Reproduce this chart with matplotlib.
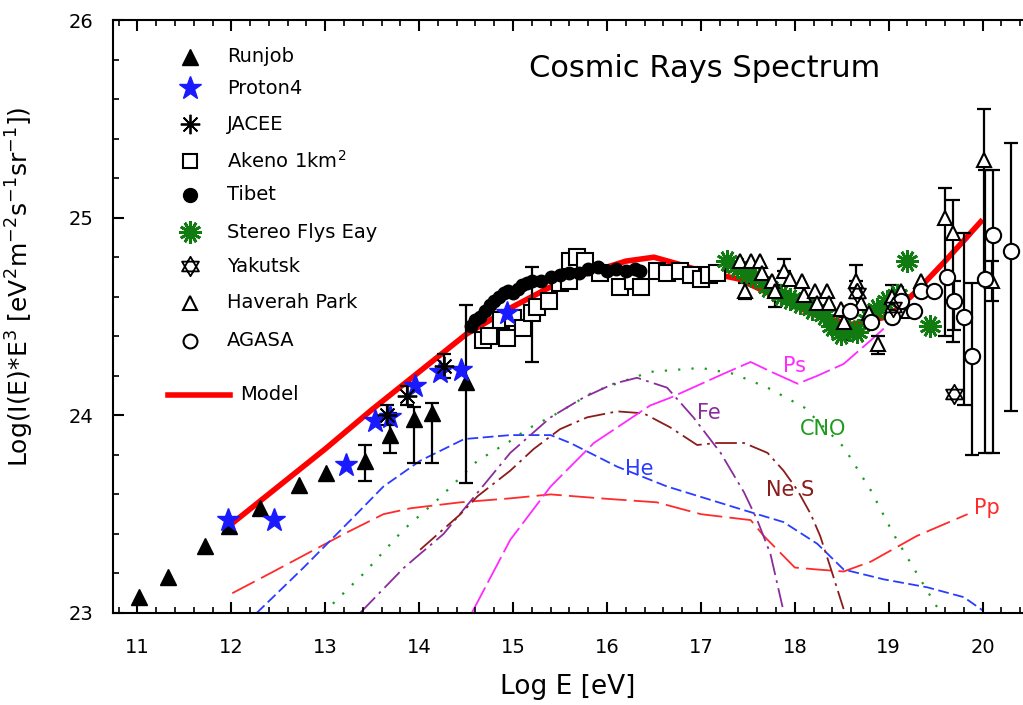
import numpy as np
import matplotlib.pyplot as plt
from matplotlib.path import Path

plt.rcParams['font.family'] = ['DejaVu Sans']
plt.rcParams['mathtext.fontset'] = 'dejavusans'

# --- data (Log E [eV], Log(I*E^3)) ---
runjob_x = [11.02, 11.33, 11.72, 11.98, 12.31, 12.72, 13.01, 13.42, 13.69, 13.94, 14.14, 14.50]
runjob_y = [23.08, 23.18, 23.34, 23.44, 23.53, 23.65, 23.71, 23.77, 23.90, 23.98, 24.01, 24.17]
runjob_lo = [0, 0, 0, 0, 0, 0, 0, 0.10, 0.09, 0.22, 0.25, 0.51]
runjob_hi = [0, 0, 0, 0, 0, 0, 0, 0.08, 0.11, 0.06, 0.05, 0.39]

proton4_x = [11.96, 12.45, 13.22, 13.53, 13.69, 13.96, 14.22, 14.45, 14.94]
proton4_y = [23.47, 23.47, 23.75, 23.97, 23.99, 24.15, 24.22, 24.23, 24.52]

jacee_x = [13.66, 13.87, 14.26]
jacee_y = [24.00, 24.10, 24.25]
jacee_err = [0.05, 0.05, 0.06]

akeno_x = [14.68, 14.74, 14.87, 14.94, 15.00, 15.11, 15.20, 15.26, 15.38, 15.50, 15.60,
           15.61, 15.68, 15.77, 15.93, 16.14, 16.28, 16.36, 16.53, 16.64, 16.78, 16.89,
           17.00, 17.09, 17.17]
akeno_y = [24.38, 24.40, 24.48, 24.39, 24.49, 24.44, 24.52, 24.55, 24.58, 24.67, 24.68,
           24.78, 24.80, 24.78, 24.72, 24.65, 24.68, 24.65, 24.73, 24.72, 24.73, 24.71,
           24.69, 24.71, 24.72]
akeno_lo = [0, 0, 0, 0, 0, 0, 0.25, 0, 0, 0, 0, 0, 0, 0, 0, 0, 0, 0, 0, 0, 0, 0, 0, 0, 0]
akeno_hi = [0, 0, 0, 0, 0, 0, 0.23, 0, 0, 0, 0, 0, 0, 0, 0, 0, 0, 0, 0, 0, 0, 0, 0, 0, 0]

tibet_x = [14.55, 14.60, 14.65, 14.70, 14.75, 14.80, 14.85, 14.90, 14.95, 15.00, 15.05,
           15.10, 15.15, 15.20, 15.30, 15.40, 15.50, 15.60, 15.70, 15.80, 15.90, 16.00,
           16.10, 16.20, 16.30, 16.35]
tibet_y = [24.45, 24.48, 24.50, 24.53, 24.56, 24.58, 24.60, 24.62, 24.63, 24.62, 24.64,
           24.66, 24.67, 24.68, 24.68, 24.70, 24.71, 24.72, 24.72, 24.74, 24.75, 24.73,
           24.74, 24.73, 24.74, 24.73]

fly_x = [17.28, 17.38, 17.48, 17.58, 17.71, 17.85, 17.95, 18.06, 18.18, 18.31, 18.40,
         18.49, 18.58, 18.66, 18.78, 18.88, 18.98, 19.09, 19.20, 19.44]
fly_y = [24.78, 24.75, 24.72, 24.70, 24.65, 24.61, 24.59, 24.57, 24.54, 24.51, 24.45,
         24.41, 24.43, 24.42, 24.48, 24.54, 24.58, 24.61, 24.78, 24.45]

yakutsk_x = [18.66, 19.05, 19.69]
yakutsk_y = [24.62, 24.55, 24.11]

haverah_x = [17.42, 17.47, 17.53, 17.63, 17.65, 17.76, 17.79, 17.89, 17.95, 18.08, 18.10,
             18.22, 18.24, 18.34, 18.36, 18.49, 18.52, 18.65, 18.66, 18.70, 18.79, 18.89,
             19.04, 19.13, 19.21, 19.34, 19.60, 19.68, 20.01, 20.10]
haverah_y = [24.78, 24.63, 24.78, 24.78, 24.72, 24.68, 24.63, 24.73, 24.69, 24.68, 24.61,
             24.63, 24.57, 24.63, 24.57, 24.54, 24.47, 24.68, 24.63, 24.57, 24.52, 24.36,
             24.60, 24.63, 24.53, 24.68, 25.00, 24.92, 25.29, 24.68]
haverah_lo = [0, 0.04, 0, 0, 0, 0, 0.08, 0, 0, 0, 0, 0, 0, 0, 0, 0, 0.09, 0, 0, 0, 0,
              0.05, 0, 0, 0, 0, 0.60, 0.55, 0.60, 0.10]
haverah_hi = [0, 0.04, 0, 0, 0, 0, 0.03, 0.06, 0, 0, 0, 0, 0, 0, 0, 0, 0.03, 0.08, 0, 0, 0,
              0.04, 0.06, 0, 0, 0, 0.15, 0.17, 0.26, 0.10]

agasa_x = [18.59, 18.81, 19.04, 19.13, 19.27, 19.34, 19.48, 19.62, 19.69, 19.80, 19.89,
           20.03, 20.11, 20.30]
agasa_y = [24.53, 24.47, 24.50, 24.58, 24.53, 24.63, 24.63, 24.70, 24.58, 24.50, 24.30,
           24.69, 24.91, 24.83]
agasa_lo = [0, 0, 0, 0, 0, 0, 0, 0, 0.15, 0.45, 0.50, 0.88, 1.10, 0.81]
agasa_hi = [0, 0, 0, 0, 0, 0, 0, 0, 0.10, 0.42, 0.37, 0.55, 0.33, 0.55]

model_x = [12.0, 12.5, 13.0, 13.5, 14.0, 14.5, 15.0, 15.4, 15.8, 16.2, 16.5, 16.8, 17.0,
           17.4, 17.8, 18.2, 18.6, 19.0, 19.3, 19.6, 20.0]
model_y = [23.45, 23.64, 23.83, 24.03, 24.22, 24.41, 24.55, 24.65, 24.72, 24.78, 24.80,
           24.76, 24.73, 24.69, 24.60, 24.51, 24.46, 24.50, 24.63, 24.78, 24.99]

pp_x = [12.01, 12.45, 13.2, 13.62, 13.91, 14.44, 14.97, 15.4, 15.93, 16.53, 17.0, 17.53,
        17.67, 18.0, 18.24, 18.52, 18.81, 19.3, 19.84]
pp_y = [23.10, 23.21, 23.40, 23.50, 23.53, 23.56, 23.58, 23.60, 23.58, 23.56, 23.50, 23.47,
        23.39, 23.23, 23.22, 23.21, 23.26, 23.39, 23.50]

he_x = [12.27, 12.77, 13.27, 13.62, 14.01, 14.48, 14.97, 15.4, 15.61, 16.11, 16.64, 17.46,
        17.88, 18.24, 18.52, 18.95, 19.41, 19.80, 20.01]
he_y = [23.00, 23.23, 23.47, 23.64, 23.77, 23.88, 23.90, 23.90, 23.86, 23.74, 23.64, 23.52,
        23.46, 23.35, 23.22, 23.17, 23.13, 23.08, 23.01]

cno_x = [12.98, 13.41, 13.83, 14.19, 14.62, 14.97, 15.15, 15.47, 15.86, 16.46, 17.0, 17.35,
         17.71, 18.1, 18.52, 18.81, 19.05, 19.30, 19.54]
cno_y = [23.00, 23.20, 23.42, 23.57, 23.77, 23.87, 23.93, 24.01, 24.12, 24.22, 24.24, 24.21,
         24.14, 24.04, 23.84, 23.62, 23.40, 23.20, 23.01]

fe_x = [13.37, 13.84, 14.26, 14.97, 15.4, 15.75, 16.07, 16.32, 16.64, 16.92, 17.21, 17.46,
        17.6, 17.74, 17.87]
fe_y = [23.00, 23.23, 23.40, 23.81, 23.99, 24.09, 24.16, 24.19, 24.14, 23.99, 23.81, 23.61,
        23.47, 23.30, 23.03]

nes_x = [14.01, 14.44, 14.62, 14.97, 15.22, 15.5, 15.79, 16.11, 16.39, 16.67, 16.96, 17.17,
         17.46, 17.71, 17.88, 18.03, 18.17, 18.27, 18.38, 18.52]
nes_y = [23.32, 23.50, 23.59, 23.72, 23.83, 23.93, 23.99, 24.02, 24.01, 23.94, 23.85, 23.86,
         23.86, 23.81, 23.72, 23.62, 23.50, 23.39, 23.23, 23.02]

ps_x = [14.56, 14.97, 15.4, 15.86, 16.46, 16.68, 17.24, 17.53, 17.75, 18.03, 18.24, 18.52,
        18.81, 19.02, 19.48, 19.84, 19.98]
ps_y = [23.00, 23.37, 23.64, 23.86, 24.05, 24.09, 24.21, 24.27, 24.22, 24.16, 24.20, 24.26,
        24.38, 24.47, 24.72, 24.89, 24.98]

# six pointed star (two centred triangles) for Yakutsk
c, s = 0.866, 0.5
hexagram = Path([(0, 1), (-c, -s), (c, -s), (0, 1), (0, -1), (-c, s), (c, s), (0, -1)],
                [Path.MOVETO, Path.LINETO, Path.LINETO, Path.CLOSEPOLY,
                 Path.MOVETO, Path.LINETO, Path.LINETO, Path.CLOSEPOLY])

fig = plt.figure(figsize=(10.23, 7.05), dpi=100)
ax = fig.add_axes([113 / 1023, 1 - 613 / 705, 910 / 1023, 593 / 705])
ax.set_xlim(10.74, 20.43)
ax.set_ylim(23, 26)

# component curves
ax.plot(pp_x, pp_y, color='#ff2a2a', lw=1.3, dashes=(14, 4), zorder=1)
ax.plot(he_x, he_y, color='#2a3cff', lw=1.3, dashes=(6, 2.5), zorder=1)
ax.plot(cno_x, cno_y, color='#1f9a1f', lw=1.6, dashes=(1, 5), zorder=1)
ax.plot(fe_x, fe_y, color='#8a2c9c', lw=1.3, dashes=(12, 3, 1.5, 3), zorder=1)
ax.plot(nes_x, nes_y, color='#8b1c1c', lw=1.3, dashes=(12, 3, 1.5, 3), zorder=1)
ax.plot(ps_x, ps_y, color='#ff2aff', lw=1.3, dashes=(16, 3), zorder=1)

lab_kw = dict(fontsize=15, ha='center', va='center', zorder=2)
ax.text(18.00, 24.25, 'Ps', color='#ff2aff', **lab_kw)
ax.text(17.08, 24.01, 'Fe', color='#8a2c9c', **lab_kw)
ax.text(18.30, 23.93, 'CNO', color='#1f9a1f', **lab_kw)
ax.text(16.34, 23.73, 'He', color='#2a3cff', **lab_kw)
ax.text(17.95, 23.62, 'Ne S', color='#8b1c1c', **lab_kw)
ax.text(20.05, 23.53, 'Pp', color='#ff2a2a', **lab_kw)

# model
ax.plot(model_x, model_y, color='#ff0000', lw=4, zorder=3, solid_capstyle='butt')


def err(x, y, lo, hi):
    x = np.array(x); y = np.array(y); lo = np.array(lo); hi = np.array(hi)
    m = (lo + hi) > 0
    ax.errorbar(x[m], y[m], yerr=[lo[m], hi[m]], fmt='none', ecolor='black',
                elinewidth=1.6, capsize=5, capthick=1.6, zorder=4)


err(runjob_x, runjob_y, runjob_lo, runjob_hi)
err(jacee_x, jacee_y, jacee_err, jacee_err)
err(akeno_x, akeno_y, akeno_lo, akeno_hi)
err(haverah_x, haverah_y, haverah_lo, haverah_hi)
err(agasa_x, agasa_y, agasa_lo, agasa_hi)

ax.plot(akeno_x, akeno_y, 's', ms=11, mfc='white', mec='black', mew=1.5, ls='none', zorder=5)
ax.plot(tibet_x, tibet_y, 'o', ms=9, color='black', ls='none', zorder=6)
ax.plot(runjob_x, runjob_y, '^', ms=11, color='black', ls='none', zorder=6)
ax.plot(proton4_x, proton4_y, '*', ms=17, color='#1a1aff', ls='none', zorder=7)
ax.plot(jacee_x, jacee_y, marker=(8, 2, 0), ms=14, color='black', mew=1.3, ls='none', zorder=7)
ax.plot(fly_x, fly_y, marker=(12, 2, 0), ms=16, color='#117a11', mew=2.0, ls='none', zorder=7)
ax.plot(haverah_x, haverah_y, '^', ms=10, mfc='white', mec='black', mew=1.5, ls='none', zorder=8)
ax.plot(agasa_x, agasa_y, 'o', ms=11, mfc='white', mec='black', mew=1.5, ls='none', zorder=8)
ax.plot(yakutsk_x, yakutsk_y, marker=hexagram, ms=14, mfc='white', mec='black', mew=1.3,
        ls='none', zorder=9)

# legend drawn by hand, positions in axes fraction
leg_names = ['Runjob', 'Proton4', 'JACEE', 'Akeno 1km$^{2}$', 'Tibet', 'Stereo Flys Eay',
             'Yakutsk', 'Haverah Park', 'AGASA']
leg_py = [57, 88, 124, 161, 195, 232, 266, 303, 341]
leg_style = [
    dict(marker='^', ms=11, color='black'),
    dict(marker='*', ms=17, color='#1a1aff'),
    dict(marker=(8, 2, 0), ms=14, color='black', mew=1.3),
    dict(marker='s', ms=10, mfc='white', mec='black', mew=1.5),
    dict(marker='o', ms=10, color='black'),
    dict(marker=(12, 2, 0), ms=16, color='#117a11', mew=2.0),
    dict(marker=hexagram, ms=14, mfc='white', mec='black', mew=1.3),
    dict(marker='^', ms=10, mfc='white', mec='black', mew=1.5),
    dict(marker='o', ms=10, mfc='white', mec='black', mew=1.5),
]
for name, py, st in zip(leg_names, leg_py, leg_style):
    fy = (613 - py) / 593
    ax.plot([(190 - 113) / 910], [fy], transform=ax.transAxes, ls='none', clip_on=False, **st)
    ax.text((227 - 113) / 910, fy, name, transform=ax.transAxes, fontsize=14,
            va='center', ha='left')
fy = (613 - 395) / 593
ax.plot([(168 - 113) / 910, (230 - 113) / 910], [fy, fy], color='#ff0000', lw=4,
        transform=ax.transAxes)
ax.text((240 - 113) / 910, fy, 'Model', transform=ax.transAxes, fontsize=14,
        va='center', ha='left')

ax.text(0.65, 0.918, 'Cosmic Rays Spectrum', transform=ax.transAxes, fontsize=22,
        ha='center', va='center')

ax.spines['right'].set_visible(False)
for sp in ['left', 'bottom', 'top']:
    ax.spines[sp].set_linewidth(1.5)
ax.set_xticks(range(11, 21))
ax.set_yticks([23, 24, 25, 26])
ax.set_xticks(np.arange(10.8, 20.5, 0.2), minor=True)
ax.set_yticks(np.arange(23, 26.01, 0.2), minor=True)
ax.tick_params(which='both', direction='in', top=True, right=False, labelsize=14)
ax.tick_params(which='major', length=8, width=1.5)
ax.tick_params(which='minor', length=4, width=1.2)
ax.tick_params(axis='x', pad=18)
ax.tick_params(axis='y', pad=14)

ax.set_xlabel('Log E [eV]', fontsize=19, labelpad=12)
ax.set_ylabel('Log(I(E)*E$^{3}$ [eV$^{2}$m$^{-2}$s$^{-1}$sr$^{-1}$])', fontsize=18,
              labelpad=14)
ax.yaxis.set_label_coords(-0.085, 0.55)

fig.savefig('out.png', dpi=100)
